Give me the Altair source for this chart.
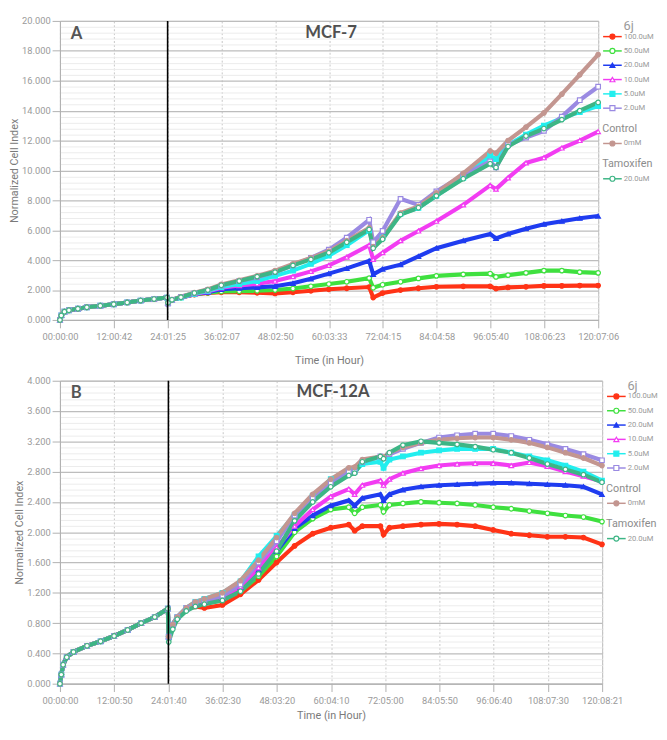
import altair as alt
import pandas as pd

# ---------------- series definitions ----------------
KEYS = ["j100", "j50", "j20", "j10", "j5", "j2", "ctrl", "tam"]
LABELS = ["100.0uM", "50.0uM", "20.0uM", "10.0uM", "5.0uM", "2.0uM", "0mM", "20.0uM"]
COLORS = ["#ff3316", "#3fe03f", "#1f3cf0", "#f23cf2", "#22eeee", "#9a8ae2", "#c39690", "#3db585"]
SHAPES = ["circle", "circle", "triangle-up", "triangle-up", "square", "square", "circle", "circle"]
FILLS = ["#ff3316", "white", "#1f3cf0", "white", "#22eeee", "white", "#c39690", "white"]

# ---------------- panel A : MCF-7 ----------------
A_T_EARLY = [0, 0.3, 1, 2, 4, 6, 9, 12, 15, 18, 21, 23.9]
A_EARLY = [0, 0.3, 0.55, 0.65, 0.75, 0.85, 0.95, 1.05, 1.17, 1.3, 1.4, 1.5]
A_T_LATE = [24.1, 25, 27, 30, 33, 36, 40, 44, 48, 52, 56, 60, 64, 69, 69.9, 72, 76, 80,
            84, 90, 96, 97.3, 100, 104, 108, 112, 116, 120.1]
A_100 = [1.15, 1.35, 1.5, 1.7, 1.8, 1.85, 1.85, 1.82, 1.78, 1.85, 1.95, 2.05, 2.12, 2.2, 1.5,
         1.8, 2.0, 2.12, 2.22, 2.25, 2.25, 2.1, 2.18, 2.22, 2.28, 2.28, 2.3, 2.3]
A_50 = [1.15, 1.35, 1.5, 1.72, 1.82, 1.9, 1.92, 1.95, 2.0, 2.1, 2.25, 2.4, 2.55, 2.8, 2.15,
        2.35, 2.55, 2.78, 2.95, 3.05, 3.1, 2.88, 3.0, 3.15, 3.3, 3.3, 3.2, 3.15]
A_20 = [1.15, 1.35, 1.5, 1.72, 1.85, 2.05, 2.12, 2.18, 2.25, 2.45, 2.75, 3.1, 3.45, 3.95, 3.05,
        3.4, 3.7, 4.25, 4.8, 5.3, 5.75, 5.45, 5.75, 6.1, 6.4, 6.6, 6.8, 6.95]
A_10 = [1.15, 1.35, 1.5, 1.72, 1.9, 2.15, 2.3, 2.42, 2.6, 2.9, 3.25, 3.65, 4.2, 5.0, 4.05,
        4.5, 5.3, 5.95, 6.6, 7.7, 9.0, 8.75, 9.5, 10.5, 10.85, 11.5, 12.0, 12.6]
A_5 = [1.15, 1.35, 1.5, 1.75, 1.95, 2.2, 2.4, 2.6, 2.95, 3.3, 3.75, 4.3, 5.0, 6.0, 5.1,
       5.5, 7.1, 7.5, 8.3, 9.5, 11.0, 10.75, 11.7, 12.4, 13.0, 13.5, 13.9, 14.3]
A_2 = [1.1, 1.35, 1.55, 1.8, 2.0, 2.3, 2.6, 2.85, 3.2, 3.65, 4.15, 4.7, 5.5, 6.7, 5.2,
       5.95, 8.1, 7.7, 8.6, 9.7, 10.6, 10.2, 11.7, 12.2, 12.65, 13.6, 14.7, 15.6]
A_CTRL = [1.15, 1.35, 1.55, 1.82, 2.05, 2.38, 2.65, 2.95, 3.3, 3.75, 4.15, 4.6, 5.3, 6.15, 4.9,
          5.5, 7.15, 7.6, 8.5, 9.8, 11.3, 11.15, 12.0, 12.9, 13.85, 15.1, 16.4, 17.75]
A_TAM = [1.15, 1.35, 1.52, 1.8, 2.0, 2.32, 2.6, 2.9, 3.2, 3.65, 4.05, 4.5, 5.2, 6.05, 4.8,
         5.4, 7.05, 7.5, 8.3, 9.45, 10.45, 10.2, 11.6, 12.3, 12.8, 13.4, 14.0, 14.55]
A_TICK_LABELS = ["00:00:00", "12:00:42", "24:01:25", "36:02:07", "48:02:50", "60:03:33",
                 "72:04:15", "84:04:58", "96:05:40", "108:06:23", "120:07:06"]

# ---------------- panel B : MCF-12A ----------------
B_T_EARLY = [0, 0.3, 0.7, 1.5, 3, 6, 9, 12, 15, 18, 21, 23.9]
B_EARLY = [0, 0.12, 0.25, 0.35, 0.42, 0.5, 0.56, 0.63, 0.71, 0.8, 0.88, 0.99]
B_T_LATE = [24.1, 25, 26, 28, 30, 32, 36, 40, 44, 48, 52, 56, 60, 64, 65.3, 67, 71, 71.7, 73,
            76, 80, 84, 88, 92, 96, 100, 104, 108, 112, 116, 120.1]
B_100 = [0.62, 0.78, 0.88, 0.98, 1.02, 1.0, 1.04, 1.18, 1.37, 1.6, 1.82, 1.98, 2.06, 2.1, 2.02,
         2.08, 2.08, 1.97, 2.06, 2.08, 2.1, 2.11, 2.1, 2.08, 2.03, 1.98, 1.96, 1.94, 1.94, 1.93, 1.84]
B_50 = [0.62, 0.78, 0.88, 0.98, 1.04, 1.06, 1.1, 1.22, 1.42, 1.68, 2.0, 2.18, 2.3, 2.33, 2.25,
        2.33, 2.36, 2.27, 2.36, 2.38, 2.4, 2.39, 2.38, 2.36, 2.33, 2.31, 2.28, 2.25, 2.22, 2.2, 2.14]
B_20 = [0.62, 0.78, 0.88, 0.99, 1.06, 1.08, 1.13, 1.27, 1.5, 1.75, 2.05, 2.22, 2.35, 2.42, 2.35,
        2.45, 2.5, 2.42, 2.5, 2.56, 2.6, 2.62, 2.63, 2.64, 2.65, 2.65, 2.64, 2.63, 2.62, 2.6, 2.5]
B_10 = [0.62, 0.78, 0.88, 0.99, 1.06, 1.09, 1.14, 1.28, 1.53, 1.8, 2.08, 2.3, 2.47, 2.57, 2.5,
        2.62, 2.68, 2.62, 2.7, 2.78, 2.84, 2.88, 2.9, 2.91, 2.91, 2.88, 2.92, 2.87, 2.8, 2.74, 2.67]
B_5 = [0.62, 0.78, 0.88, 1.0, 1.08, 1.12, 1.2, 1.35, 1.68, 1.95, 2.23, 2.48, 2.7, 2.82, 2.8,
       2.9, 2.93, 2.85, 2.96, 3.0, 3.05, 3.08, 3.1, 3.1, 3.1, 3.05, 3.0, 2.95, 2.88, 2.8, 2.68]
B_2 = [0.62, 0.78, 0.88, 1.0, 1.07, 1.1, 1.16, 1.31, 1.6, 1.88, 2.22, 2.45, 2.65, 2.8, 2.8,
       2.93, 3.0, 2.98, 3.03, 3.1, 3.18, 3.25, 3.28, 3.3, 3.3, 3.27, 3.22, 3.16, 3.1, 3.03, 2.95]
B_CTRL = [0.62, 0.78, 0.88, 1.0, 1.08, 1.12, 1.2, 1.36, 1.63, 1.93, 2.25, 2.5, 2.7, 2.85, 2.86,
          2.96, 3.0, 2.99, 3.05, 3.12, 3.18, 3.22, 3.24, 3.25, 3.25, 3.22, 3.18, 3.12, 3.05, 2.98, 2.88]
B_TAM = [0.55, 0.72, 0.85, 0.96, 1.02, 1.05, 1.1, 1.22, 1.45, 1.75, 2.15, 2.4, 2.6, 2.75, 2.78,
         2.93, 3.0, 2.97, 3.05, 3.15, 3.2, 3.18, 3.16, 3.13, 3.09, 3.05, 2.98, 2.9, 2.83, 2.76, 2.66]
B_TICK_LABELS = ["00:00:00", "12:00:50", "24:01:40", "36:02:30", "48:03:20", "60:04:10",
                 "72:05:00", "84:05:50", "96:06:40", "108:07:30", "120:08:21"]

A_LATE = dict(zip(KEYS, [A_100, A_50, A_20, A_10, A_5, A_2, A_CTRL, A_TAM]))
B_LATE = dict(zip(KEYS, [B_100, B_50, B_20, B_10, B_5, B_2, B_CTRL, B_TAM]))

# legend layout (pixels below the plot top)
LEG_ITEM_Y = [16, 30.6, 45.2, 59.8, 74.4, 89, 125, 161]
LEG_HEAD_Y = [110, 146]
LEG_TITLE_Y = 5


def build_panel(t_early, v_early, t_late, late, tick_step, tick_labels,
                ymax, ystep, minor_step, W, H, letter, name, rule_x, title_pad):
    rows = []
    for k in KEYS:
        for t, v in zip(t_early + t_late, v_early + late[k]):
            rows.append({"key": k, "t": t, "v": v})
    df = pd.DataFrame(rows)

    ticks = [round(i * tick_step, 5) for i in range(len(tick_labels))]
    xmax = ticks[-1]
    arr = "[" + ",".join("'%s'" % s for s in tick_labels) + "]"
    x = alt.X("t:Q", scale=alt.Scale(domain=[0, xmax], nice=False, zero=False),
              axis=alt.Axis(values=ticks, labelExpr="%s[round(datum.value / %s)]" % (arr, tick_step),
                            title="Time (in Hour)", titlePadding=title_pad, grid=True,
                            gridDash=[2, 2], gridColor="#c6c6c6", labelFlush=False,
                            labelOverlap=False, labelPadding=4))
    yscale = alt.Scale(domain=[0, ymax], nice=False, zero=True)
    major = [round(i * ystep, 4) for i in range(11)]
    nminor = int(round(ymax / minor_step))
    minor = [round(i * minor_step, 4) for i in range(nminor + 1)
             if i % int(round(ystep / minor_step)) != 0]
    y_major = alt.Y("v:Q", scale=yscale,
                    axis=alt.Axis(values=major, format=".3f", title="Normalized Cell Index",
                                  grid=True, gridColor="#bdbdbd", gridWidth=1.3,
                                  titlePadding=2, labelPadding=2, orient="left"))
    y_minor = alt.Y("v:Q", scale=yscale,
                    axis=alt.Axis(values=minor, grid=True, gridColor="#ececec", gridWidth=1,
                                  labels=False, ticks=False, domain=False, title="",
                                  orient="right"))
    color = alt.Color("key:N", scale=alt.Scale(domain=KEYS, range=COLORS), legend=None)
    stroke = alt.Stroke("key:N", scale=alt.Scale(domain=KEYS, range=COLORS), legend=None)
    fill = alt.Fill("key:N", scale=alt.Scale(domain=KEYS, range=FILLS), legend=None)
    shape = alt.Shape("key:N", scale=alt.Scale(domain=KEYS, range=SHAPES), legend=None)

    lines = alt.Chart(df).mark_line(strokeWidth=4.2).encode(x=x, y=y_major, color=color,
                                                           detail="key:N")
    pts = alt.Chart(df).mark_point(filled=True, size=22, strokeWidth=1.2, opacity=1).encode(
        x=x, y=y_minor, stroke=stroke, fill=fill, shape=shape)
    rule = alt.Chart(pd.DataFrame({"t": [rule_x]})).mark_rule(
        color="black", strokeWidth=1.6).encode(x=x)
    letter_txt = alt.Chart(pd.DataFrame({"s": [letter]})).mark_text(
        align="left", baseline="middle", fontSize=17, fontWeight="bold", font="Lato",
        color="#555555").encode(x=alt.value(11), y=alt.value(13), text="s:N")
    name_txt = alt.Chart(pd.DataFrame({"s": [name]})).mark_text(
        align="center", baseline="middle", fontSize=17, fontWeight="bold", font="Lato",
        color="#505050").encode(x=alt.value(W / 2 + 2), y=alt.value(12), text="s:N")

    data_group = alt.layer(lines, pts, rule, letter_txt, name_txt).resolve_axis(y="independent")

    # ---- legend (drawn beside the plot) ----
    ly = alt.Y("ly:Q", scale=alt.Scale(domain=[0, H], range=[0, H], nice=False, zero=False),
               axis=None)
    leg = pd.DataFrame({"key": KEYS, "label": LABELS, "ly": LEG_ITEM_Y})
    leg_line = alt.Chart(leg).mark_rule(strokeWidth=1.5).encode(
        x=alt.value(W + 5), x2=alt.value(W + 24), y=ly, color=color)
    leg_pt = alt.Chart(leg).mark_point(filled=True, size=26, strokeWidth=1.2, opacity=1).encode(
        x=alt.value(W + 14.5), y=ly, stroke=stroke, fill=fill, shape=shape)
    leg_txt = alt.Chart(leg).mark_text(align="left", baseline="middle", fontSize=7.8,
                                       font="Roboto", color="#9a9a9a").encode(
        x=alt.value(W + 26), y=ly, text="label:N")
    heads = pd.DataFrame({"h": ["Control", "Tamoxifen"], "ly": LEG_HEAD_Y})
    head_txt = alt.Chart(heads).mark_text(align="left", baseline="middle", fontSize=11,
                                          font="Roboto", color="#8c8c8c").encode(
        x=alt.value(W + 4), y=ly, text="h:N")
    ttl = pd.DataFrame({"h": ["6j"], "ly": [LEG_TITLE_Y]})
    ttl_txt = alt.Chart(ttl).mark_text(align="center", baseline="middle", fontSize=13,
                                       font="Roboto", color="#9a9a9a").encode(
        x=alt.value(W + 31), y=ly, text="h:N")
    legend_group = alt.layer(leg_line, leg_pt, leg_txt, head_txt, ttl_txt)

    return alt.layer(data_group, legend_group).resolve_scale(y="independent").properties(
        width=W, height=H)


panel_a = build_panel(A_T_EARLY, A_EARLY, A_T_LATE, A_LATE, 12.01181, A_TICK_LABELS,
                      20, 2, 0.4, 549, 305, "A", "MCF-7", 24.024, 14)
panel_b = build_panel(B_T_EARLY, B_EARLY, B_T_LATE, B_LATE, 12.01389, B_TICK_LABELS,
                      4, 0.4, 0.08, 553, 309, "B", "MCF-12A", 24.028, 5)

chart = alt.vconcat(panel_a, panel_b, spacing=9).properties(
    padding={"left": 0, "top": 0, "right": 0, "bottom": 0}
).configure_view(stroke="#bdbdbd", strokeWidth=1).configure_axis(
    labelFont="Roboto", labelColor="#9a9a9a", labelFontSize=9.5,
    titleFont="Roboto", titleColor="#7a7a7a", titleFontSize=11, titleFontWeight="normal",
    domainColor="#b0b0b0", tickColor="#b0b0b0", tickSize=8
)

chart.save("out.html", embed_options={"renderer": "svg", "actions": False})
